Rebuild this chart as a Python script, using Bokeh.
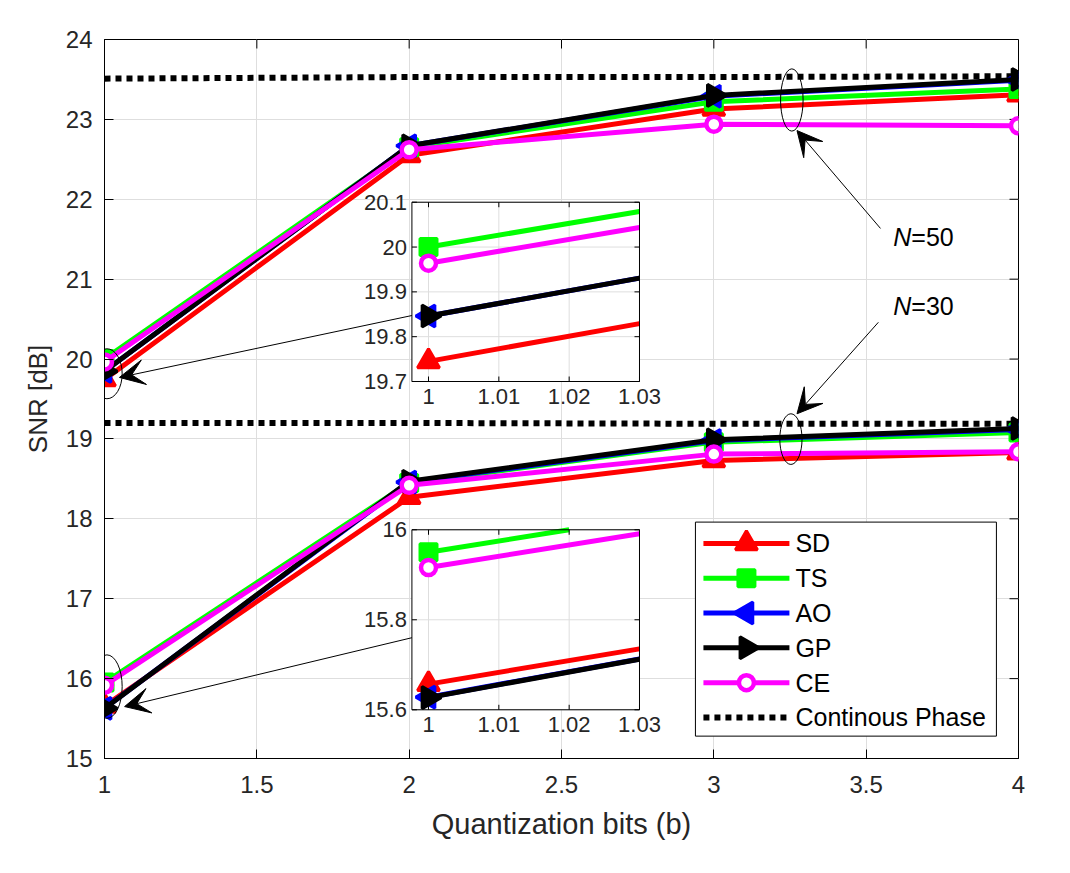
import math
from bokeh.plotting import figure
from bokeh.models import Range1d, FixedTicker, Label, Arrow, VeeHead
from bokeh.core.properties import value
from bokeh.embed import file_html
from bokeh.resources import INLINE

# ---------------- data ----------------
bits = [1, 2, 3, 4]

sd_50 = [19.745, 22.55, 23.13, 23.31]
ts_50 = [20.000, 22.65, 23.22, 23.38]
ao_50 = [19.846, 22.67, 23.29, 23.49]
gp_50 = [19.846, 22.67, 23.30, 23.50]
ce_50 = [19.964, 22.62, 22.94, 22.92]
cp_50 = [23.51, 23.53, 23.53, 23.54]

sd_30 = [15.657, 18.27, 18.73, 18.83]
ts_30 = [15.950, 18.45, 18.96, 19.08]
ao_30 = [15.628, 18.46, 18.98, 19.12]
gp_30 = [15.627, 18.47, 18.99, 19.13]
ce_30 = [15.916, 18.42, 18.81, 18.84]
cp_30 = [19.20, 19.20, 19.19, 19.19]

series_names = ["SD", "TS", "AO", "GP", "CE"]
cp_name = "Continous Phase"

x_ticks = [1, 1.5, 2, 2.5, 3, 3.5, 4]
x_tick_labels = ["1", "1.5", "2", "2.5", "3", "3.5", "4"]
y_ticks = [15, 16, 17, 18, 19, 20, 21, 22, 23, 24]

inset_x_ticks = [1, 1.01, 1.02, 1.03]
inset_x_labels = ["1", "1.01", "1.02", "1.03"]
inset1_y_ticks = [19.7, 19.8, 19.9, 20.0, 20.1]
inset1_y_labels = ["19.7", "19.8", "19.9", "20", "20.1"]
inset2_y_ticks = [15.6, 15.8, 16.0]
inset2_y_labels = ["15.6", "15.8", "16"]

# ---------------- styles ----------------
FONT = "Liberation Sans"
GRID = "#dedede"
TXT = "#262626"
STY = {
    "SD": dict(color="#ff0000", marker="triangle", size=22, angle=0.0, fill="#ff0000", lw=3),
    "TS": dict(color="#00ff00", marker="square", size=17, angle=0.0, fill="#00ff00", lw=3),
    "AO": dict(color="#0000ff", marker="triangle", size=22, angle=math.pi / 2, fill="#0000ff", lw=3),
    "GP": dict(color="#000000", marker="triangle", size=22, angle=-math.pi / 2, fill="#000000", lw=3),
    "CE": dict(color="#ff00ff", marker="circle", size=15, angle=0.0, fill="#ffffff", lw=4.5),
}
LW = 5

groups = [
    dict(zip(series_names, [sd_50, ts_50, ao_50, gp_50, ce_50])),
    dict(zip(series_names, [sd_30, ts_30, ao_30, gp_30, ce_30])),
]
cps = [cp_50, cp_30]

p = figure(width=1060, height=858, x_range=Range1d(1, 4), y_range=Range1d(15, 24),
           output_backend="svg", toolbar_location=None,
           min_border_left=104, min_border_right=42, min_border_top=39, min_border_bottom=100,
           background_fill_color="white", border_fill_color="white")
p.outline_line_color = "black"
p.outline_line_width = 1
p.outline_line_alpha = 1

xa = p.xaxis[0]
ya = p.yaxis[0]
xa.ticker = FixedTicker(ticks=x_ticks)
xa.major_label_overrides = {t: s for t, s in zip(x_ticks, x_tick_labels)}
ya.ticker = FixedTicker(ticks=y_ticks)
for ax in (xa, ya):
    ax.major_tick_in = 9
    ax.major_tick_out = 0
    ax.minor_tick_line_color = None
    ax.axis_line_color = "black"
    ax.major_tick_line_color = "black"
    ax.major_label_text_font = FONT
    ax.major_label_text_font_size = "24px"
    ax.major_label_text_color = TXT
    ax.axis_label_text_font = FONT
    ax.axis_label_text_font_style = "normal"
    ax.axis_label_text_color = TXT
xa.major_label_standoff = 17
ya.major_label_standoff = 12
ya.axis_label = "SNR [dB]"
ya.axis_label_text_font_size = "26px"
ya.axis_label_standoff = 10
xa.axis_label = "Quantization bits (b)"
xa.axis_label_text_font_size = "29px"
xa.axis_label_standoff = 12

p.xgrid[0].ticker = FixedTicker(ticks=x_ticks)
p.ygrid[0].ticker = FixedTicker(ticks=y_ticks)
p.xgrid.grid_line_color = GRID
p.ygrid.grid_line_color = GRID

# inward ticks on top and right edges (box)
p.ray(x=x_ticks, y=[p.y_range.end] * len(x_ticks), length=9, length_units="screen",
      angle=-math.pi / 2, line_color="black", line_width=1)
p.ray(x=[p.x_range.end] * len(y_ticks), y=y_ticks, length=9, length_units="screen",
      angle=math.pi, line_color="black", line_width=1)

# ---------------- main series ----------------
for gi, grp in enumerate(groups):
    p.line(bits, cps[gi], line_color="black", line_width=6, line_dash="6 5")
    for name in series_names:
        st = STY[name]
        p.line(bits, grp[name], line_color=st["color"], line_width=LW, line_join="round")
        p.scatter(bits, grp[name], marker=st["marker"], size=st["size"], angle=st["angle"],
                  line_color=st["color"], fill_color=st["fill"], line_width=st["lw"])

# ellipses (annotation marks)
ell_x = [1.008, 1.008, 3.256, 3.253]
ell_y = [19.816, 15.90, 23.243, 18.998]
ell_w = [0.100, 0.100, 0.074, 0.073]
ell_h = [0.626, 0.795, 0.781, 0.634]
p.ellipse(x=ell_x, y=ell_y, width=ell_w, height=ell_h, fill_color=None,
          line_color="black", line_width=1)


# ---------------- insets ----------------
def clip_segment(xa_, ya_, xb_, yb_, x0, x1, y0, y1):
    t0, t1 = 0.0, 1.0
    dx, dy = xb_ - xa_, yb_ - ya_
    for pp, qq in ((-dx, xa_ - x0), (dx, x1 - xa_), (-dy, ya_ - y0), (dy, y1 - ya_)):
        if pp == 0:
            if qq < 0:
                return None
        else:
            t = qq / pp
            if pp < 0:
                if t > t1:
                    return None
                t0 = max(t0, t)
            else:
                if t < t0:
                    return None
                t1 = min(t1, t)
    return (xa_ + t0 * dx, ya_ + t0 * dy, xa_ + t1 * dx, ya_ + t1 * dy)


def clipped_segments(vals, x0, x1, y0, y1):
    segs = [clip_segment(bits[i], vals[i], bits[i + 1], vals[i + 1], x0, x1, y0, y1)
            for i in range(len(bits) - 1)]
    segs = [s for s in segs if s]
    return dict(x0=[s[0] for s in segs], y0=[s[1] for s in segs],
                x1=[s[2] for s in segs], y1=[s[3] for s in segs]), len(segs)


def draw_inset(src_x, src_y, tgt_x, tgt_y, yt, ytl):
    sub = p.subplot(x_source=Range1d(*src_x), y_source=Range1d(*src_y),
                    x_target=Range1d(*tgt_x), y_target=Range1d(*tgt_y))
    x0, x1 = src_x
    y0, y1 = src_y
    n, m = len(inset_x_ticks), len(yt)
    sub.quad(left=[x0], right=[x1], bottom=[y0], top=[y1], fill_color="white", line_color=None)
    sub.segment(x0=inset_x_ticks, y0=[y0] * n, x1=inset_x_ticks, y1=[y1] * n,
                line_color=GRID, line_width=1)
    sub.segment(x0=[x0] * m, y0=yt, x1=[x1] * m, y1=yt, line_color=GRID, line_width=1)
    for gi, grp in enumerate(groups):
        segs, k = clipped_segments(cps[gi], x0, x1, y0, y1)
        if k:
            sub.segment(**segs, line_color="black", line_width=6, line_dash="6 5")
        for name in series_names:
            st = STY[name]
            vals = grp[name]
            segs, k = clipped_segments(vals, x0, x1, y0, y1)
            if k:
                sub.segment(**segs, line_color=st["color"], line_width=LW)
            inside = [(bx, v) for bx, v in zip(bits, vals) if x0 <= bx <= x1 and y0 <= v <= y1]
            if inside:
                sub.scatter([q[0] for q in inside], [q[1] for q in inside], marker=st["marker"],
                            size=st["size"], angle=st["angle"], line_color=st["color"],
                            fill_color=st["fill"], line_width=st["lw"])
    sub.quad(left=[x0], right=[x1], bottom=[y0], top=[y1], fill_color=None,
             line_color="black", line_width=1)
    sub.ray(x=[x0] * m, y=yt, length=5, length_units="screen", angle=0,
            line_color="black", line_width=1)
    sub.ray(x=[x1] * m, y=yt, length=5, length_units="screen", angle=math.pi,
            line_color="black", line_width=1)
    sub.ray(x=inset_x_ticks, y=[y0] * n, length=5, length_units="screen", angle=math.pi / 2,
            line_color="black", line_width=1)
    sub.ray(x=inset_x_ticks, y=[y1] * n, length=5, length_units="screen", angle=-math.pi / 2,
            line_color="black", line_width=1)
    sub.text(x=[x0] * m, y=yt, text=ytl, x_offset=-5, text_align="right",
             text_baseline="middle", text_font=value(FONT), text_font_size="22px",
             text_color=TXT)
    sub.text(x=inset_x_ticks, y=[y0] * n, text=inset_x_labels, y_offset=7,
             text_align="center", text_baseline="top", text_font=value(FONT),
             text_font_size="22px", text_color=TXT)


INSET_X = (0.99764, 1.03)
draw_inset(INSET_X, (19.7, 20.1), (2.009, 2.756), (19.719, 21.963),
           inset1_y_ticks, inset1_y_labels)
draw_inset(INSET_X, (15.6, 16.0), (2.009, 2.756), (15.610, 17.863),
           inset2_y_ticks, inset2_y_labels)

# ---------------- legend (drawn box, pixel-like local units) ----------------
LEG_W, LEG_H = 301, 214
leg = p.subplot(x_source=Range1d(0, LEG_W), y_source=Range1d(0, LEG_H),
                x_target=Range1d(2.9396, 3.9275), y_target=Range1d(15.280, 17.959))
leg.quad(left=[0], right=[LEG_W], bottom=[0], top=[LEG_H], fill_color="white",
         line_color="black", line_width=1)
legend_names = series_names + [cp_name]
row_y = [LEG_H - 21.3 - 34.8 * i for i in range(len(legend_names))]
for i, nm in enumerate(series_names):
    st = STY[nm]
    leg.segment(x0=[8], y0=[row_y[i]], x1=[94], y1=[row_y[i]], line_color=st["color"],
                line_width=LW)
    leg.scatter([51], [row_y[i]], marker=st["marker"], size=st["size"], angle=st["angle"],
                line_color=st["color"], fill_color=st["fill"], line_width=st["lw"])
leg.segment(x0=[8], y0=[row_y[-1]], x1=[94], y1=[row_y[-1]], line_color="black",
            line_width=6, line_dash="6 5")
leg.text(x=[100] * len(legend_names), y=row_y, text=legend_names, text_align="left",
         text_baseline="middle", text_font=value(FONT), text_font_size="25px",
         text_color="black")

# ---------------- arrows ----------------
arrows = [
    (3.547, 21.635, 3.273, 22.86),
    (3.540, 20.46, 3.273, 19.315),
    (2.009, 20.545, 1.049, 19.77),
    (2.009, 16.512, 1.066, 15.65),
]
for xs, ys, xe, ye in arrows:
    p.add_layout(Arrow(x_start=xs, y_start=ys, x_end=xe, y_end=ye, line_color="black",
                       line_width=1,
                       end=VeeHead(size=25, fill_color="black", line_color="black")))

# N labels
for yy, txt in ((21.53, "=50"), (20.67, "=30")):
    p.add_layout(Label(x=3.589, y=yy, text="N", text_font=FONT, text_font_size="25px",
                       text_font_style="italic", text_baseline="middle", text_align="left",
                       text_color="black"))
    p.add_layout(Label(x=3.589, y=yy, x_offset=18, text=txt, text_font=FONT,
                       text_font_size="25px", text_baseline="middle", text_align="left",
                       text_color="black"))

open("out.html", "w").write(file_html(p, INLINE))
